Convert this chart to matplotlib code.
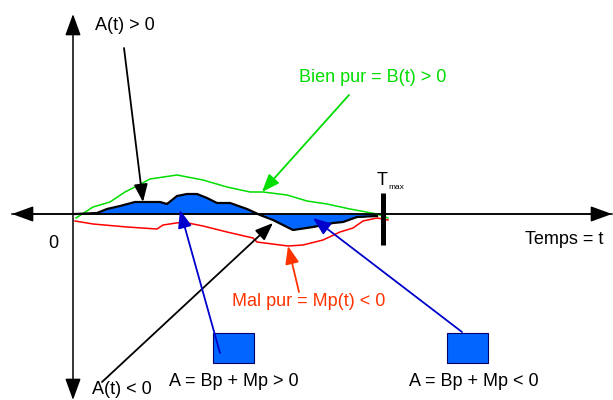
import matplotlib
matplotlib.use("Agg")
import matplotlib.pyplot as plt
from matplotlib.patches import Rectangle

plt.rcParams['font.family'] = ['Liberation Sans', 'DejaVu Sans']

# ---- data (t = time, v = value; origin at the axes crossing) ----
green_t = [1, 18, 35, 50, 60, 75, 102, 128, 152, 175, 188, 212, 232, 252, 275, 302, 313]
green_v = [-4, 7, 12, 22, 27, 35, 39, 34, 27, 22, 22, 19, 13, 10, 5, 0, -4]

red_t = [0, 18, 52, 82, 88, 108, 128, 152, 178, 182, 213, 228, 248, 265, 278, 288, 302, 313]
red_v = [-7, -10, -13, -15, -11, -8, -12, -18, -24, -28, -32, -31, -26, -18, -14, -7, -4, -6]

a_t = [0, 22, 32, 45, 60, 85, 92, 102, 112, 122, 132, 142, 155, 172, 185, 198, 218, 238, 258, 268, 282, 302]
a_v = [0, 1, 5, 8, 12, 12, 10, 18, 20, 20, 16, 11, 11, 5, -1, -6, -16, -13, -9, -8, -3, -2]

t_max = 307.5

# annotations: (text-side start point, arrow tip)
arrows = [
    ((49, 166), (68, 12), 'black'),
    ((274, 119), (187, 22), '#00DD00'),
    ((224, -78), (213, -32), '#FF3300'),
    ((27, -168), (198, -9), 'black'),
]
square_x = [138, 372]
square_y = -149
square_w = 41
square_h = 30
blue_arrows = [((145, -139), (105, 4)), ((387, -118), (238, -4))]

BLUE = '#0066FF'
GREEN = '#00DD00'
RED = '#FF0000'
ORANGE = '#FF3300'
FS = 13

fig = plt.figure(figsize=(6.13, 4.0), dpi=100)
ax = fig.add_axes([0, 0, 1, 1])
ax.set_xlim(-75, 538)
ax.set_ylim(-186, 214)
ax.axis('off')

# axes with arrows
ax.annotate('', xy=(537, 0), xytext=(-63, 0),
            arrowprops=dict(arrowstyle='<|-|>,head_length=1.1,head_width=0.4',
                            color='black', lw=1.1, shrinkA=0, shrinkB=0, mutation_scale=12))
ax.annotate('', xy=(-2, 200), xytext=(-2, -186),
            arrowprops=dict(arrowstyle='<|-|>,head_length=1.1,head_width=0.4',
                            color='black', lw=1.1, shrinkA=0, shrinkB=0, mutation_scale=12))

# area and curves
ax.fill_between(a_t, a_v, 0, color=BLUE, lw=0, zorder=2)
ax.plot(green_t, green_v, color=GREEN, lw=1.1, zorder=3)
ax.plot(red_t, red_v, color=RED, lw=1.1, zorder=3)
ax.plot(a_t, a_v, color='black', lw=1.6, zorder=4)
ax.plot([-63, 537], [0, 0], color='black', lw=1.1, zorder=4)

# T max bar
ax.plot([t_max, t_max], [21, -31], color='black', lw=3.6, solid_capstyle='butt', zorder=5)
ax.text(302, 29, 'T', fontsize=FS, ha='left', va='baseline')
ax.text(313, 25, 'max', fontsize=6, ha='left', va='baseline')

# arrows
for (s, e, c) in arrows:
    ax.annotate('', xy=e, xytext=s,
                arrowprops=dict(arrowstyle='-|>,head_length=0.9,head_width=0.35',
                                color=c, lw=1.3, shrinkA=0, shrinkB=0, mutation_scale=12),
                zorder=6)

# squares
for sx in square_x:
    ax.add_patch(Rectangle((sx, square_y), square_w, square_h, facecolor=BLUE,
                           edgecolor='#000066', lw=0.8, zorder=5))
for (s, e) in blue_arrows:
    ax.annotate('', xy=e, xytext=s,
                arrowprops=dict(arrowstyle='-|>,head_length=0.9,head_width=0.35',
                                color='#0000CC', lw=1.3, shrinkA=0, shrinkB=0, mutation_scale=12),
                zorder=7)

# texts
ax.text(20, 188, 'A(t) > 0', fontsize=FS, ha='left', va='center')
ax.text(224, 136, 'Bien pur = B(t) > 0', fontsize=FS, ha='left', va='center', color=GREEN)
ax.text(157, -88, 'Mal pur = Mp(t) < 0', fontsize=FS, ha='left', va='center', color=ORANGE)
ax.text(-22, -29, '0', fontsize=FS, ha='center', va='center')
ax.text(528, -25, 'Temps = t', fontsize=FS, ha='right', va='center')
ax.text(17, -176, 'A(t) < 0', fontsize=FS, ha='left', va='center')
ax.text(158.5, -168, 'A = Bp + Mp > 0', fontsize=FS, ha='center', va='center')
ax.text(399, -168, 'A = Bp + Mp < 0', fontsize=FS, ha='center', va='center')

fig.savefig('out.png', dpi=100)
